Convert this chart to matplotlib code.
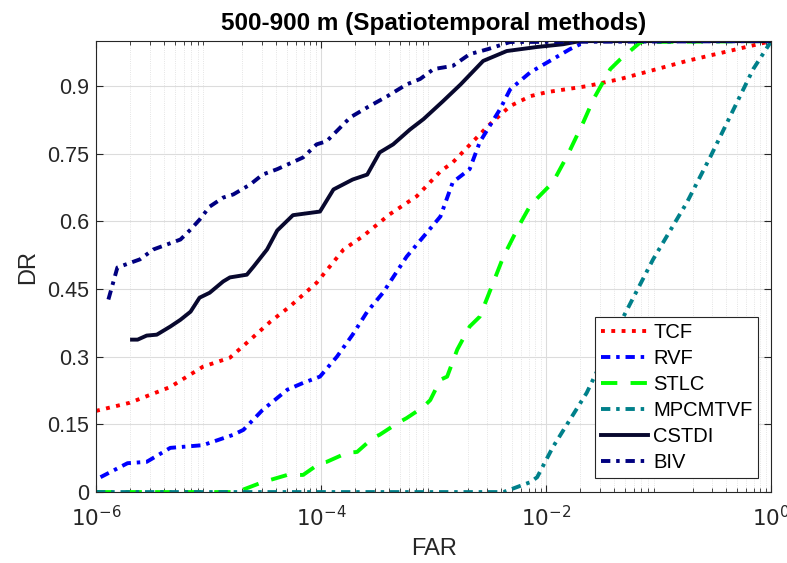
import numpy as np
import matplotlib
matplotlib.use("Agg")
import matplotlib.pyplot as plt
from matplotlib.ticker import LogLocator, NullFormatter

plt.rcParams['font.family'] = ['Liberation Sans', 'DejaVu Sans']

# log10(FAR) and DR
tcf_x = [-6.0, -5.70, -5.34, -5.05, -4.81, -4.66, -4.45, -4.28, -4.04, -3.80, -3.63, -3.39,
         -3.15, -2.94, -2.83, -2.52, -2.32, -2.14, -1.99, -1.64, -1.34, -0.75, 0.0]
tcf_y = [0.18, 0.198, 0.233, 0.278, 0.298, 0.331, 0.378, 0.411, 0.464, 0.538, 0.567, 0.616,
         0.656, 0.711, 0.731, 0.811, 0.856, 0.878, 0.887, 0.9, 0.916, 0.956, 1.0]

rvf_x = [-5.96, -5.72, -5.55, -5.34, -5.05, -4.78, -4.69, -4.52, -4.30, -4.16, -4.01, -3.86,
         -3.72, -3.59, -3.45, -3.24, -2.94, -2.83, -2.68, -2.59, -2.41, -2.32, -2.14, -1.94,
         -1.79, -1.64, 0.0]
rvf_y = [0.033, 0.064, 0.067, 0.098, 0.104, 0.127, 0.138, 0.182, 0.227, 0.242, 0.256, 0.300,
         0.349, 0.40, 0.442, 0.522, 0.611, 0.687, 0.716, 0.776, 0.849, 0.893, 0.931, 0.96,
         0.982, 1.0, 1.0]

stlc_x = [-6.0, -4.75, -4.54, -4.45, -4.30, -4.16, -4.01, -3.95, -3.77, -3.68, -3.54, -3.48,
          -3.32, -3.24, -3.09, -3.03, -2.94, -2.88, -2.79, -2.68, -2.59, -2.52, -2.38, -2.23,
          -2.14, -1.94, -1.81, -1.67, -1.58, -1.43, -1.34, -1.16, 0.0]
stlc_y = [0.0, 0.0, 0.02, 0.027, 0.038, 0.038, 0.064, 0.067, 0.087, 0.089, 0.12, 0.127,
          0.153, 0.164, 0.189, 0.204, 0.249, 0.256, 0.316, 0.367, 0.389, 0.433, 0.522, 0.596,
          0.636, 0.687, 0.747, 0.82, 0.871, 0.938, 0.96, 0.998, 1.0]

mpc_x = [-6.0, -2.38, -2.14, -2.08, -1.94, -1.64, -1.34, -1.05, -0.75, -0.54, -0.16, 0.0]
mpc_y = [0.0, 0.0, 0.022, 0.033, 0.10, 0.22, 0.376, 0.516, 0.642, 0.744, 0.938, 1.0]

cstdi_x = [-5.68, -5.63, -5.55, -5.46, -5.34, -5.25, -5.16, -5.08, -4.99, -4.87, -4.81, -4.66,
           -4.60, -4.48, -4.39, -4.25, -4.01, -3.89, -3.72, -3.59, -3.48, -3.36, -3.21, -3.09,
           -2.92, -2.76, -2.56, -2.35, -2.08, -1.85, -1.70, 0.0]
cstdi_y = [0.338, 0.338, 0.347, 0.349, 0.367, 0.382, 0.40, 0.431, 0.442, 0.467, 0.476, 0.482,
           0.50, 0.538, 0.58, 0.614, 0.622, 0.671, 0.693, 0.704, 0.753, 0.771, 0.804, 0.827,
           0.866, 0.904, 0.956, 0.978, 0.987, 0.993, 1.0, 1.0]

biv_x = [-5.89, -5.81, -5.61, -5.49, -5.25, -5.16, -5.08, -4.99, -4.87, -4.78, -4.63, -4.52,
         -4.39, -4.16, -4.04, -3.95, -3.74, -3.59, -3.41, -3.24, -3.12, -3.00, -2.83, -2.68,
         -2.52, -2.32, 0.0]
biv_y = [0.427, 0.498, 0.516, 0.538, 0.56, 0.582, 0.604, 0.633, 0.653, 0.66, 0.682, 0.704,
         0.716, 0.742, 0.771, 0.778, 0.831, 0.853, 0.878, 0.904, 0.916, 0.938, 0.945, 0.971,
         0.982, 0.998, 1.0]

fig = plt.figure(figsize=(7.87, 5.63), dpi=100)
ax = fig.add_axes([0.122, 0.126, 0.858, 0.801])

lw = 2.8
dashdot = (2.4, 1.5, 0.9, 1.5)
ax.plot(10.0 ** np.array(tcf_x), tcf_y, color='#ff0000', ls=':', lw=lw, label='TCF')
ax.plot(10.0 ** np.array(rvf_x), rvf_y, color='#0000ff', lw=lw, dashes=dashdot, label='RVF')
ax.plot(10.0 ** np.array(stlc_x), stlc_y, color='#00ff00', lw=lw, dashes=(4.2, 3.4), label='STLC')
ax.plot(10.0 ** np.array(mpc_x), mpc_y, color='#00808a', lw=lw, dashes=dashdot, label='MPCMTVF')
ax.plot(10.0 ** np.array(cstdi_x), cstdi_y, color='#08082e', ls='-', lw=lw, label='CSTDI')
ax.plot(10.0 ** np.array(biv_x), biv_y, color='#000080', lw=lw, dashes=dashdot, label='BIV')

ax.set_xscale('log')
ax.set_xlim(1e-6, 1)
ax.set_ylim(0, 1)
ax.set_xticks([1e-6, 1e-4, 1e-2, 1])
ax.set_xticklabels([r'$10^{-6}$', r'$10^{-4}$', r'$10^{-2}$', r'$10^{0}$'])
ax.xaxis.set_minor_locator(LogLocator(base=10, subs=np.arange(2, 10), numticks=20))
ax.xaxis.set_minor_formatter(NullFormatter())
ax.set_yticks([0, 0.15, 0.3, 0.45, 0.6, 0.75, 0.9])
ax.set_yticklabels(['0', '0.15', '0.3', '0.45', '0.6', '0.75', '0.9'])

ax.tick_params(which='both', direction='in', top=True, right=True, labelsize=15.5, colors='#262626')
ax.tick_params(which='major', length=5)
ax.tick_params(which='minor', length=3)
ax.tick_params(axis='x', which='major', pad=10)
ax.tick_params(axis='y', which='major', pad=5)
ax.grid(True, which='major', color='#dcdcdc', lw=0.8)
ax.grid(True, which='minor', axis='x', color='#dcdcdc', lw=0.6, ls=':')
ax.set_axisbelow(True)
for s in ax.spines.values():
    s.set_color('#262626')
    s.set_linewidth(0.8)

ax.set_xlabel('FAR', fontsize=17, color='#262626', labelpad=5)
ax.set_ylabel('DR', fontsize=17, color='#262626', labelpad=6)
ax.set_title('500-900 m (Spatiotemporal methods)', fontsize=17.5, fontweight='bold', pad=8)

leg = ax.legend(loc='lower right', bbox_to_anchor=(0.981, 0.031), fontsize=14.5, fancybox=False,
                edgecolor='#262626', framealpha=1, handlelength=2.35, handletextpad=0.25,
                borderpad=0.3, labelspacing=0.35, borderaxespad=0)
leg.get_frame().set_linewidth(0.8)

fig.savefig('out.png', dpi=100)
